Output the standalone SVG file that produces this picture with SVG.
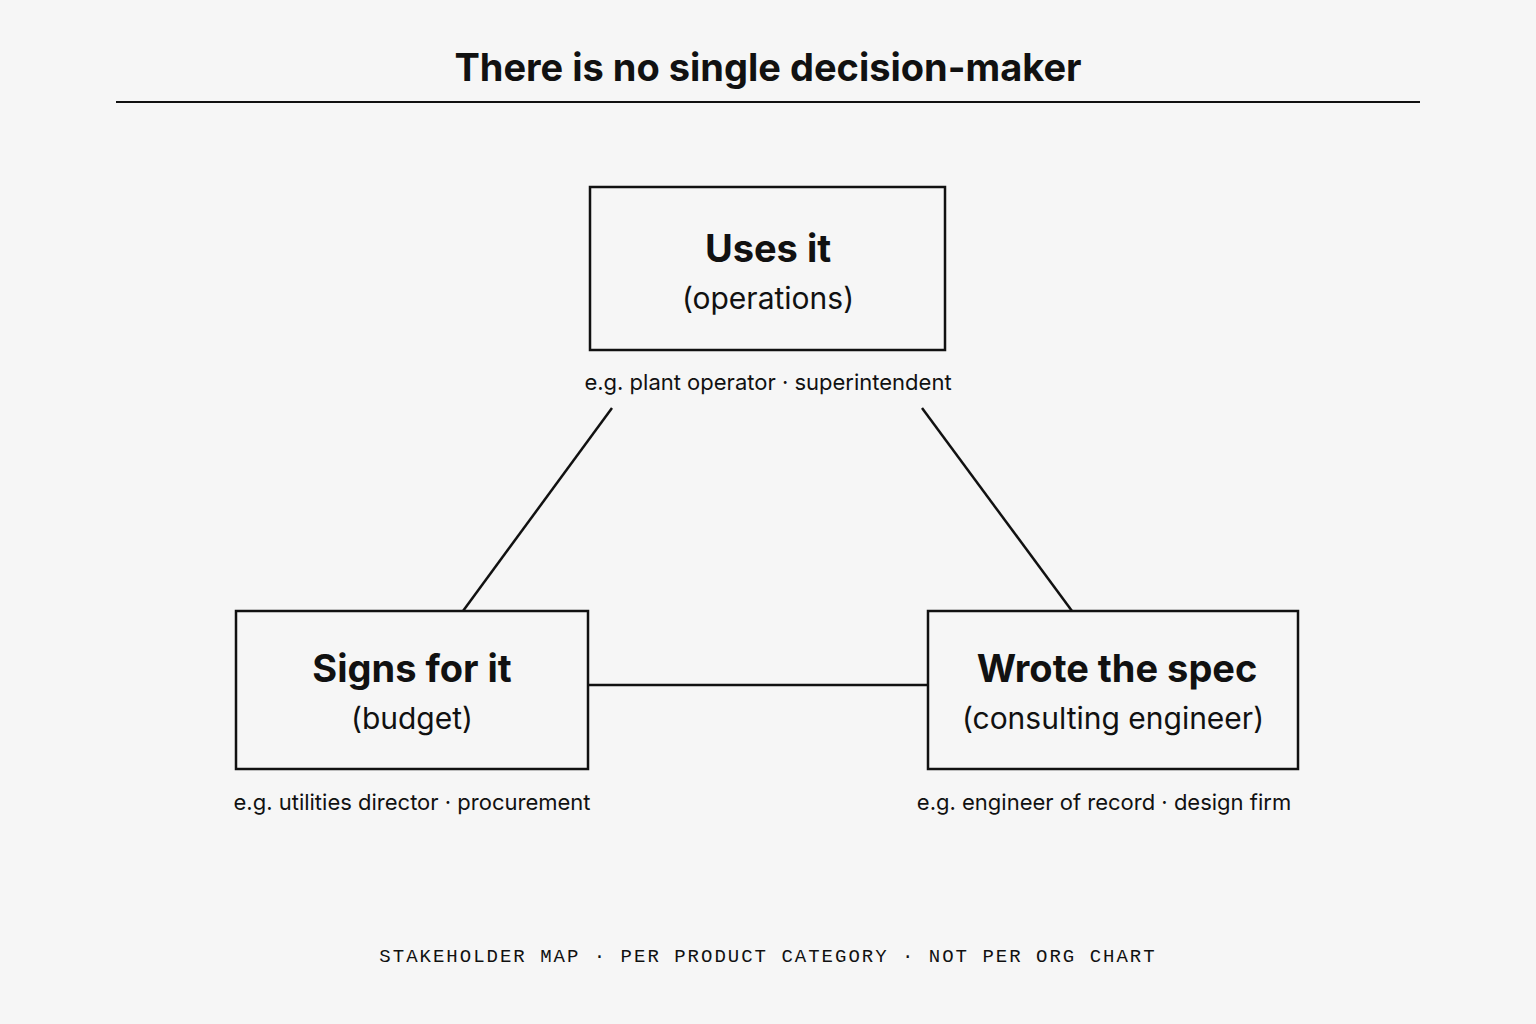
<svg xmlns="http://www.w3.org/2000/svg" width="1536" height="1024" viewBox="0 0 1536 1024">
<style>
.box{fill:none;stroke:#111;stroke-width:2.5}
.t{font-family:Inter,"Liberation Sans",sans-serif;fill:#111;text-anchor:middle}
.h{font-size:38px;font-weight:700}
.s{font-size:30px}
.e{font-size:22px}
.m{font-family:"Liberation Mono",monospace;font-size:19px;letter-spacing:2px;fill:#111;text-anchor:middle}
line{stroke:#111;stroke-width:2.5}
</style>
<rect width="1536" height="1024" fill="#f6f6f6"/>
<text class="t" x="768" y="81" style="font-size:38px;font-weight:700">There is no single decision-maker</text>
<line x1="116" y1="102" x2="1420" y2="102" style="stroke-width:2"/>
<g id="connectors">
<line x1="612" y1="408" x2="463" y2="611"/>
<line x1="922" y1="408" x2="1072" y2="611"/>
<line x1="588" y1="685" x2="928" y2="685"/>
</g>
<g id="uses">
<rect class="box" x="590" y="187" width="355" height="163"/>
<text class="t h" x="768" y="262">Uses it</text>
<text class="t s" x="768" y="309">(operations)</text>
<text class="t e" x="768" y="390">e.g. plant operator · superintendent</text>
</g>
<g id="signs">
<rect class="box" x="236" y="611" width="352" height="158"/>
<text class="t h" x="412" y="682">Signs for it</text>
<text class="t s" x="412" y="729">(budget)</text>
<text class="t e" x="412" y="810">e.g. utilities director · procurement</text>
</g>
<g id="wrote">
<rect class="box" x="928" y="611" width="370" height="158"/>
<text class="t h" x="1117" y="682">Wrote the spec</text>
<text class="t s" x="1113" y="729">(consulting engineer)</text>
<text class="t e" x="1104" y="810">e.g. engineer of record · design firm</text>
</g>
<text class="m" x="768" y="962">STAKEHOLDER MAP · PER PRODUCT CATEGORY · NOT PER ORG CHART</text>
</svg>
